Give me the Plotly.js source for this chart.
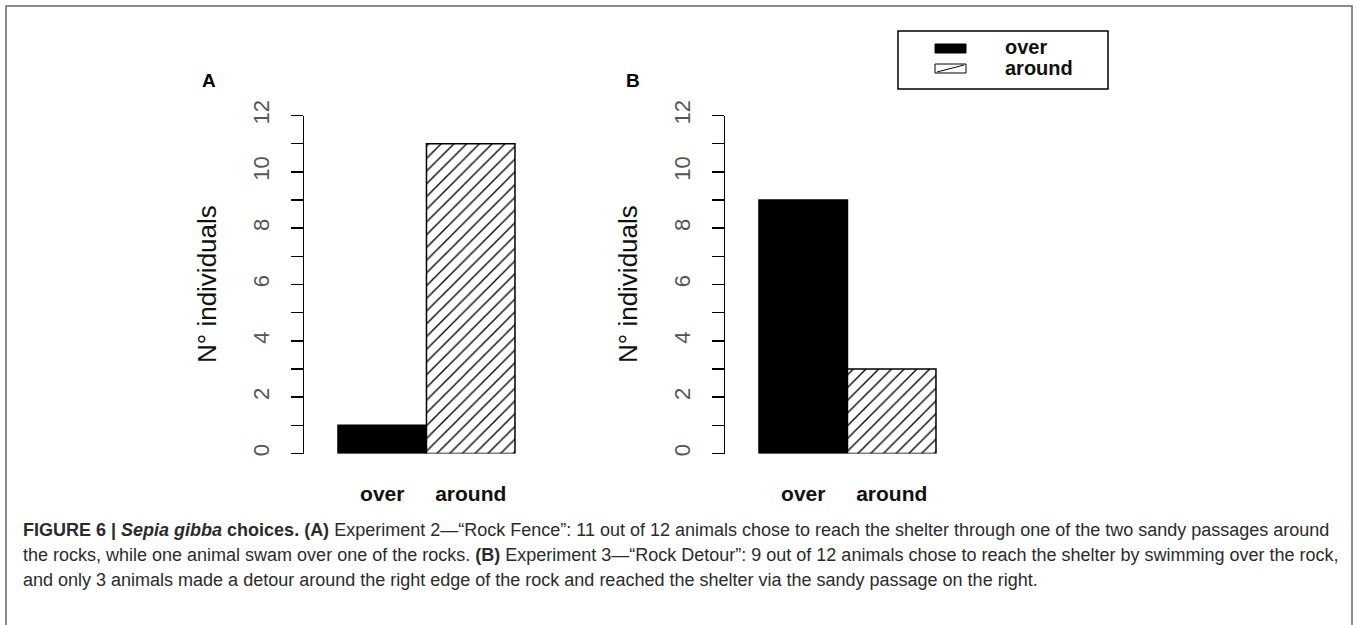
<!DOCTYPE html>
<html>
<head>
<meta charset="utf-8">
<script src="https://cdn.plot.ly/plotly-3.0.1.min.js"></script>
<style>
  html, body { margin: 0; padding: 0; background: #fff; }
  #chart { width: 1357px; height: 625px; }
</style>
</head>
<body>
<div id="chart"></div>
<script>
// ---- data ----
const categories = ['over', 'around'];
const valuesA = [1, 11];   // Experiment 2 – "Rock Fence"
const valuesB = [9, 3];    // Experiment 3 – "Rock Detour"
const yTickVals = [0, 2, 4, 6, 8, 10, 12];
const yTitle = 'N° individuals';
const panelLabels = ['A', 'B'];
const legendLabels = ['over', 'around'];

const captionLines = [
  [{t: 'FIGURE 6 | ', b: 1}, {t: 'Sepia gibba', b: 1, i: 1}, {t: ' choices. (A)', b: 1},
   {t: ' Experiment 2—“Rock Fence”: 11 out of 12 animals chose to reach the shelter through one of the two sandy passages around'}],
  [{t: 'the rocks, while one animal swam over one of the rocks. '}, {t: '(B)', b: 1},
   {t: ' Experiment 3—“Rock Detour”: 9 out of 12 animals chose to reach the shelter by swimming over the rock,'}],
  [{t: 'and only 3 animals made a detour around the right edge of the rock and reached the shelter via the sandy passage on the right.'}]
];

// ---- layout helpers ----
const W = 1357, H = 625;
const px = x => x / W;
const py = y => 1 - y / H;
const FONT = '"Liberation Sans", Arial, Helvetica, sans-serif';

function measure(segs, size) {
  const c = document.createElement('canvas').getContext('2d');
  let w = 0;
  segs.forEach(s => {
    c.font = (s.i ? 'italic ' : '') + (s.b ? 'bold ' : '') + size + 'px "Liberation Sans"';
    w += c.measureText(s.t).width;
  });
  return w;
}
const capSize = Math.max(12, Math.min(18, 100 * 1314 / measure(captionLines[0], 100)));
const toHtml = segs => segs.map(s => {
  let t = s.t;
  if (s.i) t = '<i>' + t + '</i>';
  if (s.b) t = '<b>' + t + '</b>';
  return t;
}).join('');

const unit = 88.5;           // px per category
const xRange = [-0.884, 1.7];
const axisLeft = [304, 725];

function barTrace(cat, val, hatched, xa, ya) {
  return {
    type: 'bar', x: [cat], y: [val], xaxis: xa, yaxis: ya,
    width: 1, showlegend: false, hoverinfo: 'skip',
    marker: hatched ? {
      color: '#ffffff',
      line: {color: '#000000', width: 1.5},
      pattern: {shape: '/', fgcolor: '#000000', bgcolor: '#ffffff', size: 9, solidity: 0.15, fillmode: 'replace'}
    } : {
      color: '#000000',
      line: {color: '#000000', width: 1.5}
    }
  };
}

function xAxis(left, anchor) {
  return {
    domain: [px(left), px(left + (xRange[1] - xRange[0]) * unit)],
    range: xRange, type: 'category', categoryorder: 'array', categoryarray: categories, anchor: anchor,
    showline: false, zeroline: false, showgrid: false, ticks: '',
    tickfont: {family: FONT, size: 21, color: '#111', weight: 'bold'},
    ticklabelstandoff: 25, fixedrange: true
  };
}
function yAxis(anchor) {
  return {
    domain: [py(453.5), py(115.5)], range: [0, 12], anchor: anchor,
    tickmode: 'array', tickvals: yTickVals, ticktext: yTickVals.map(String),
    ticks: 'outside', ticklen: 12, tickwidth: 1.5, tickcolor: '#000',
    minor: {dtick: 1, tick0: 0, ticks: 'outside', ticklen: 12, tickwidth: 1.5, tickcolor: '#000', showgrid: false},
    showline: true, linewidth: 1.5, linecolor: '#000',
    showgrid: false, zeroline: false, tickangle: -90,
    tickfont: {family: FONT, size: 22, color: '#555'},
    ticklabelstandoff: 13, fixedrange: true
  };
}

const annotations = [];
// y titles
[207, 628].forEach(x => annotations.push({
  xref: 'paper', yref: 'paper', x: px(x), y: py(284), text: yTitle, textangle: -90,
  showarrow: false, xanchor: 'center', yanchor: 'middle',
  font: {family: FONT, size: 26, color: '#111'}
}));
// panel letters
[[209, 81], [633, 81]].forEach((p, i) => annotations.push({
  xref: 'paper', yref: 'paper', x: px(p[0]), y: py(p[1]), text: '<b>' + panelLabels[i] + '</b>',
  showarrow: false, xanchor: 'center', yanchor: 'middle',
  font: {family: FONT, size: 19, color: '#000'}
}));
// legend texts
[[1003, 47], [1003, 68]].forEach((p, i) => annotations.push({
  xref: 'paper', yref: 'paper', x: px(p[0]), y: py(p[1]), text: '<b>' + legendLabels[i] + '</b>',
  showarrow: false, xanchor: 'left', yanchor: 'middle',
  font: {family: FONT, size: 20, color: '#111'}
}));
// caption
[530, 555, 580].forEach((y, i) => annotations.push({
  xref: 'paper', yref: 'paper', x: px(21), y: py(y), text: toHtml(captionLines[i]),
  showarrow: false, xanchor: 'left', yanchor: 'middle', align: 'left',
  font: {family: FONT, size: capSize, color: '#2b2b2b'}
}));

const shapes = [
  // outer frame
  {type: 'rect', xref: 'paper', yref: 'paper', x0: px(6), x1: px(1352), y0: py(640), y1: py(6),
   line: {color: '#666', width: 1.5}, fillcolor: 'rgba(0,0,0,0)', layer: 'below'},
  // legend box
  {type: 'rect', xref: 'paper', yref: 'paper', x0: px(898), x1: px(1108), y0: py(89), y1: py(31),
   line: {color: '#000', width: 1.5}, fillcolor: '#fff'},
  // legend swatch: over (solid)
  {type: 'rect', xref: 'paper', yref: 'paper', x0: px(935), x1: px(966), y0: py(53), y1: py(44),
   line: {color: '#000', width: 1}, fillcolor: '#000'},
  // legend swatch: around (hatched)
  {type: 'rect', xref: 'paper', yref: 'paper', x0: px(935), x1: px(966), y0: py(73), y1: py(64),
   line: {color: '#000', width: 1}, fillcolor: '#fff'},
  {type: 'line', xref: 'paper', yref: 'paper', x0: px(937), x1: px(964), y0: py(72), y1: py(65),
   line: {color: '#000', width: 1}}
];

const data = [
  barTrace(categories[0], valuesA[0], false, 'x', 'y'),
  barTrace(categories[1], valuesA[1], true, 'x', 'y'),
  barTrace(categories[0], valuesB[0], false, 'x2', 'y2'),
  barTrace(categories[1], valuesB[1], true, 'x2', 'y2')
];
const layout = {
  width: W, height: H, margin: {l: 0, r: 0, t: 0, b: 0},
  paper_bgcolor: '#fff', plot_bgcolor: '#fff',
  font: {family: FONT},
  barmode: 'overlay', bargap: 0, showlegend: false,
  xaxis: xAxis(axisLeft[0], 'y'), yaxis: yAxis('x'),
  xaxis2: xAxis(axisLeft[1], 'y2'), yaxis2: yAxis('x2'),
  annotations: annotations, shapes: shapes
};
Plotly.newPlot('chart', data, layout, {displayModeBar: false, staticPlot: true});
</script>
</body>
</html>
